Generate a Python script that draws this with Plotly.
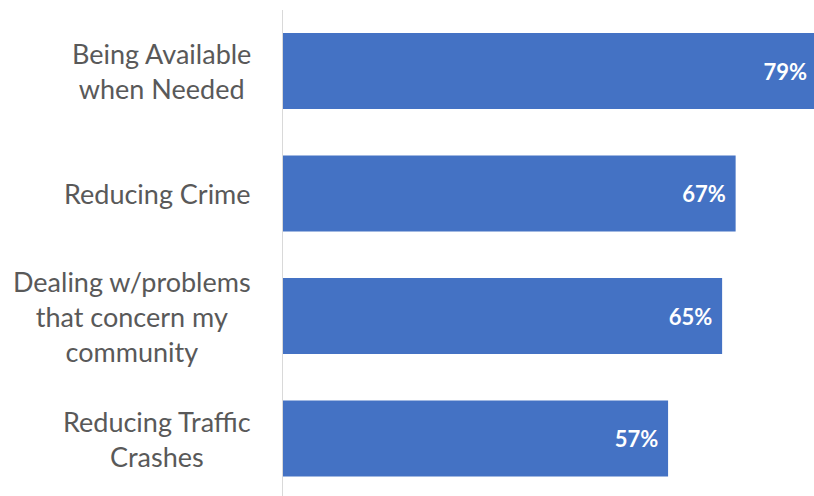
import plotly.graph_objects as go

categories = [
    "Being Available<br>when Needed",
    "Reducing Crime",
    "Dealing w/problems<br>that concern my<br>community",
    "Reducing Traffic<br>Crashes",
]
values = [79, 67, 65, 57]
labels = [f"{v}%" for v in values]

BLUE = "#4472C4"
GRAY_TXT = "#595959"

fig = go.Figure()
fig.add_trace(go.Bar(
    x=values,
    y=categories,
    orientation="h",
    marker=dict(color=BLUE, line=dict(width=0)),
    width=0.62,
    text=[l + "\u00a0\u200a" for l in labels],
    textposition="inside",
    insidetextanchor="end",
    textangle=0,
    insidetextfont=dict(family="Lato", size=22, color="white", weight="bold"),
    cliponaxis=True,
    hoverinfo="skip",
))

for c in categories:
    fig.add_annotation(
        x=0, xref="paper", y=c, yref="y",
        text=c, showarrow=False,
        xanchor="right", yanchor="middle", align="center",
        xshift=-30,
        font=dict(family="Lato", size=27, color=GRAY_TXT),
    )

fig.update_layout(
    width=814, height=496,
    margin=dict(l=283, r=0, t=10, b=0),
    paper_bgcolor="white", plot_bgcolor="white",
    showlegend=False,
    bargap=0.38,
)
fig.update_xaxes(range=[0, 78.6], showgrid=False, zeroline=False,
                 showticklabels=False, showline=False)
fig.update_yaxes(range=[3.469, -0.498], showgrid=False, zeroline=False,
                 showticklabels=False, showline=True, linecolor="#D9D9D9",
                 linewidth=1, ticks="")

fig.write_html("out.html")
